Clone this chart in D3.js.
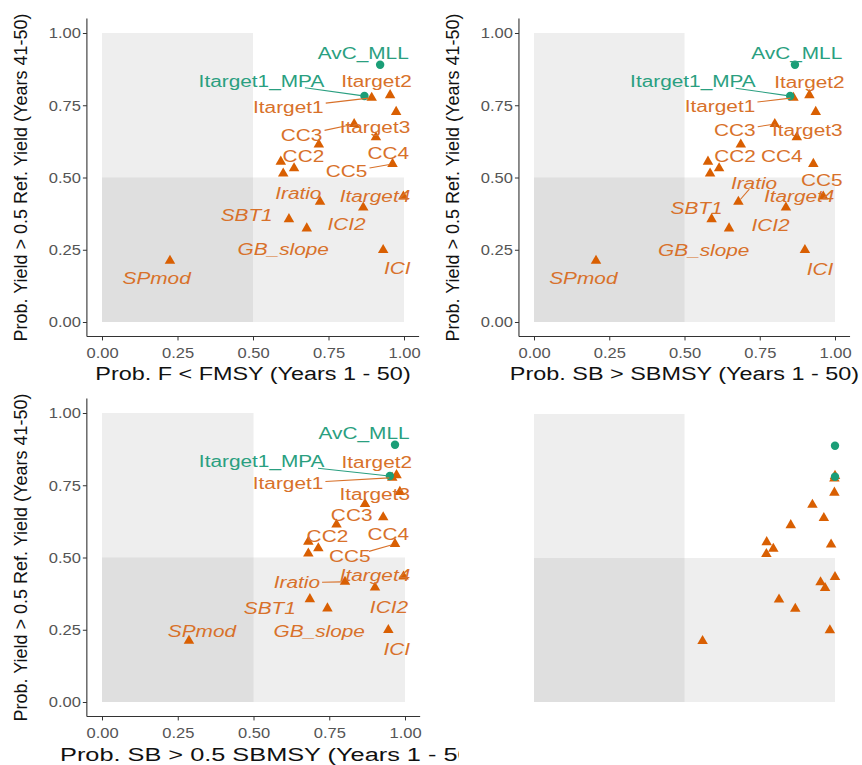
<!DOCTYPE html>
<html><head><meta charset="utf-8">
<script src="https://cdn.jsdelivr.net/npm/d3@7/dist/d3.min.js"></script>
<style>
body{margin:0;background:#fff;}
text{font-family:"Liberation Sans",Arial,sans-serif;}
</style>
</head><body>
<svg id="chart" width="862" height="765"></svg>
<script>
// ---------------- DATA ----------------
const strategies = ["AvC_MLL","Itarget1_MPA","Itarget2","Itarget1","Itarget3","CC3","CC4","CC2","CC1","IT5","IT10","CC5","Itarget4","Iratio","ICI2","SBT1","GB_slope","ICI","SPmod"];
const mpClass    = ["green","green","orange","orange","orange","orange","orange","orange","orange","orange","orange","orange","orange","orange","orange","orange","orange","orange","orange"];
const probYield  = [0.890,0.782,0.785,0.776,0.727,0.685,0.639,0.614,0.555,0.532,0.514,0.547,0.434,0.416,0.396,0.356,0.324,0.249,0.212];
const probF_FMSY = [0.921,0.869,0.954,0.893,0.974,0.835,0.907,0.718,0.592,0.636,0.600,0.962,0.998,0.722,0.865,0.619,0.678,0.931,0.225];
const probSB_SBMSY = [0.867,0.851,0.915,0.862,0.936,0.800,0.873,0.687,0.578,0.615,0.585,0.928,0.961,0.679,0.837,0.590,0.648,0.900,0.206];
const probSB_half  = [0.967,0.950,0.972,0.958,0.983,0.868,0.928,0.774,0.681,0.714,0.681,0.967,0.995,0.802,0.901,0.686,0.744,0.945,0.287];
const probPanel4   = [1.000,1.000,1.000,0.998,0.998,0.925,0.963,0.853,0.773,0.795,0.772,0.987,1.000,0.952,0.967,0.814,0.868,0.983,0.560];

const tickValues = [0,0.25,0.5,0.75,1];
const tickLabels = ["0.00","0.25","0.50","0.75","1.00"];
const yTitle = "Prob. Yield > 0.5 Ref. Yield (Years 41-50)";
const xTitles = ["Prob. F < FMSY (Years 1 - 50)","Prob. SB > SBMSY (Years 1 - 50)","Prob. SB > 0.5 SBMSY (Years 1 - 50)",""];

// label placement (data units) per panel
const labelNames = ["AvC_MLL","Itarget1_MPA","Itarget2","Itarget1","CC3","Itarget3","CC2","CC4","CC5","Iratio","Itarget4","SBT1","ICI2","GB_slope","ICI","SPmod"];
const labelX1 = [0.865,0.528,0.909,0.617,0.661,0.904,0.667,0.948,0.810,0.650,0.904,0.479,0.810,0.600,0.978,0.181];
const labelY1 = [0.930,0.834,0.832,0.743,0.647,0.674,0.572,0.584,0.520,0.445,0.434,0.370,0.339,0.251,0.186,0.151];
const labelSeg1 = ["Itarget1_MPA","Itarget1","CC3","CC5"];
const labelX2 = [0.873,0.528,0.915,0.618,0.667,0.908,0.668,0.823,0.956,0.731,0.881,0.540,0.786,0.564,0.950,0.164];
const labelY2 = [0.930,0.832,0.830,0.747,0.664,0.664,0.574,0.574,0.489,0.480,0.434,0.393,0.336,0.249,0.182,0.151];
const labelSeg2 = ["Itarget1_MPA","Itarget1","CC3","Iratio"];
const labelX3 = [0.865,0.527,0.907,0.614,0.824,0.900,0.744,0.945,0.818,0.643,0.901,0.554,0.947,0.717,0.973,0.330];
const labelY3 = [0.930,0.832,0.830,0.757,0.647,0.719,0.572,0.581,0.503,0.413,0.439,0.324,0.328,0.246,0.182,0.246];
const labelSeg3 = ["Itarget1_MPA","Itarget1","CC5","Iratio"];

// ---------------- STYLE / LAYOUT ----------------
const colors = {green:"#1b9e77", orange:"#d95f02"};
const textColors = {green:"#2a9f80", orange:"#d8712a"};
const STRETCH = 1.3;

const panels = [
  {xr:[102,404], yr:[322,33], xs:probF_FMSY, axes:true, xTitle:xTitles[0], lx:labelX1, ly:labelY1, seg:labelSeg1, clip:null, titleFixed:null},
  {xr:[534,835], yr:[322,33], xs:probSB_SBMSY, axes:true, xTitle:xTitles[1], lx:labelX2, ly:labelY2, seg:labelSeg2, clip:null, titleFixed:null},
  {xr:[102,405], yr:[702,413], xs:probSB_half, axes:true, xTitle:xTitles[2], lx:labelX3, ly:labelY3, seg:labelSeg3, clip:[0,380,459,385], titleFixed:[60,420]},
  {xr:[534,835], yr:[702,414], xs:probPanel4, axes:false, xTitle:"", lx:null, ly:null, seg:[], clip:null, titleFixed:null}
];

const svg = d3.select("#chart");
const defs = svg.append("defs");

function stretchText(sel, k){
  sel.each(function(){
    const w = this.getComputedTextLength();
    this.setAttribute("textLength", w*k);
    this.setAttribute("lengthAdjust","spacingAndGlyphs");
  });
}

const triPath = (()=>{ const s=10.5, h=s*Math.sqrt(3)/2;
  return `M0,${-2*h/3}L${s/2},${h/3}L${-s/2},${h/3}Z`; })();

panels.forEach((p,pi)=>{
  let g = svg.append("g");
  if(p.clip){
    defs.append("clipPath").attr("id","clip"+pi).append("rect")
      .attr("x",p.clip[0]).attr("y",p.clip[1]).attr("width",p.clip[2]).attr("height",p.clip[3]);
    g.attr("clip-path",`url(#clip${pi})`);
  }
  const x = d3.scaleLinear().domain([0,1]).range(p.xr);
  const y = d3.scaleLinear().domain([0,1]).range(p.yr);

  // shaded regions
  g.append("rect").attr("x",x(0)).attr("y",y(1)).attr("width",x(0.5)-x(0)).attr("height",y(0)-y(1))
    .attr("fill","#8a8a8a").attr("fill-opacity",0.15);
  g.append("rect").attr("x",x(0)).attr("y",y(0.5)).attr("width",x(1)-x(0)).attr("height",y(0)-y(0.5))
    .attr("fill","#8a8a8a").attr("fill-opacity",0.15);

  if(p.axes){
    const xAxis = d3.axisBottom(x).tickValues(tickValues).tickFormat((d,i)=>tickLabels[i]).tickSize(4).tickSizeOuter(0);
    const yAxis = d3.axisLeft(y).tickValues(tickValues).tickFormat((d,i)=>tickLabels[i]).tickSize(4).tickSizeOuter(0);
    const axY = y(-0.05), axX = x(-0.05);
    const gx = g.append("g").attr("transform",`translate(0,${axY})`).call(xAxis);
    gx.select(".domain").attr("d",`M${x(-0.05)},0H${x(1.05)}`).attr("stroke","#333").attr("stroke-width",1.1);
    gx.selectAll(".tick line").attr("stroke","#333");
    gx.selectAll(".tick text").attr("y",22).attr("dy",0).attr("fill","#555").style("font-size","14px")
      .attr("font-family","Liberation Sans, Arial, sans-serif");
    stretchText(gx.selectAll(".tick text"),1.18);
    const gy = g.append("g").attr("transform",`translate(${axX},0)`).call(yAxis);
    gy.select(".domain").attr("d",`M0,${y(1.05)}V${y(-0.05)}`).attr("stroke","#333").attr("stroke-width",1.1);
    gy.selectAll(".tick line").attr("stroke","#333");
    gy.selectAll(".tick text").attr("x",-6).attr("dy","0.35em").attr("fill","#555").style("font-size","14px")
      .attr("font-family","Liberation Sans, Arial, sans-serif");
    stretchText(gy.selectAll(".tick text"),1.18);

    // x title
    if(p.titleFixed){
      g.append("text").attr("x",p.titleFixed[0]).attr("y",axY+45)
        .attr("text-anchor","start").attr("fill","#111").style("font-size","18px")
        .attr("textLength",p.titleFixed[1]).attr("lengthAdjust","spacingAndGlyphs").text(p.xTitle);
    } else {
      const xt = g.append("text").attr("x",(x(-0.05)+x(1.05))/2).attr("y",axY+44)
        .attr("text-anchor","middle").attr("fill","#111").style("font-size","18px").text(p.xTitle);
      stretchText(xt,1.3);
    }
    // y title
    const cy = (y(0)+y(1))/2;
    g.append("text").attr("transform",`translate(${axX-66},${cy}) rotate(-90)`)
      .attr("text-anchor","middle").attr("dy","0.35em").attr("fill","#111").style("font-size","18px").text(yTitle);
  }

  // points
  const idx = d3.range(strategies.length);
  g.selectAll("path.tri").data(idx.filter(i=>mpClass[i]==="orange")).join("path").attr("class","tri")
    .attr("d",triPath).attr("transform",i=>`translate(${x(p.xs[i])},${y(probYield[i])})`)
    .attr("fill",colors.orange);
  g.selectAll("circle.pt").data(idx.filter(i=>mpClass[i]==="green")).join("circle").attr("class","pt")
    .attr("cx",i=>x(p.xs[i])).attr("cy",i=>y(probYield[i])).attr("r",4.2).attr("fill",colors.green);

  if(p.lx){
    const segG = g.append("g");
    const labG = g.append("g");
    labelNames.forEach((nm,li)=>{
      const si = strategies.indexOf(nm);
      const cls = mpClass[si];
      const t = labG.append("text").attr("x",x(p.lx[li])).attr("y",y(p.ly[li]))
        .attr("text-anchor","middle").attr("dy","0.36em")
        .attr("fill",textColors[cls]).style("font-size","16px")
        .style("font-style", probYield[si] < 0.5 ? "italic" : "normal")
        .text(nm);
      stretchText(t, STRETCH);
      if(p.seg.includes(nm)){
        const bb = t.node().getBBox();
        const cx = bb.x+bb.width/2, cyy = bb.y+bb.height/2;
        const px = x(p.xs[si]), py = y(probYield[si]);
        const dx = px-cx, dy = py-cyy;
        const tx = dx!==0 ? (bb.width/2+2)/Math.abs(dx) : Infinity;
        const ty = dy!==0 ? (bb.height/2-3)/Math.abs(dy) : Infinity;
        const t0 = Math.min(tx,ty);
        const len = Math.hypot(dx,dy);
        const t1 = 1 - 3/len;
        if(t0 < t1){
          segG.append("line").attr("x1",cx+dx*t0).attr("y1",cyy+dy*t0).attr("x2",cx+dx*t1).attr("y2",cyy+dy*t1)
            .attr("stroke",textColors[cls]).attr("stroke-width",1.1);
        }
      }
    });
  }
});
</script>
</body></html>
